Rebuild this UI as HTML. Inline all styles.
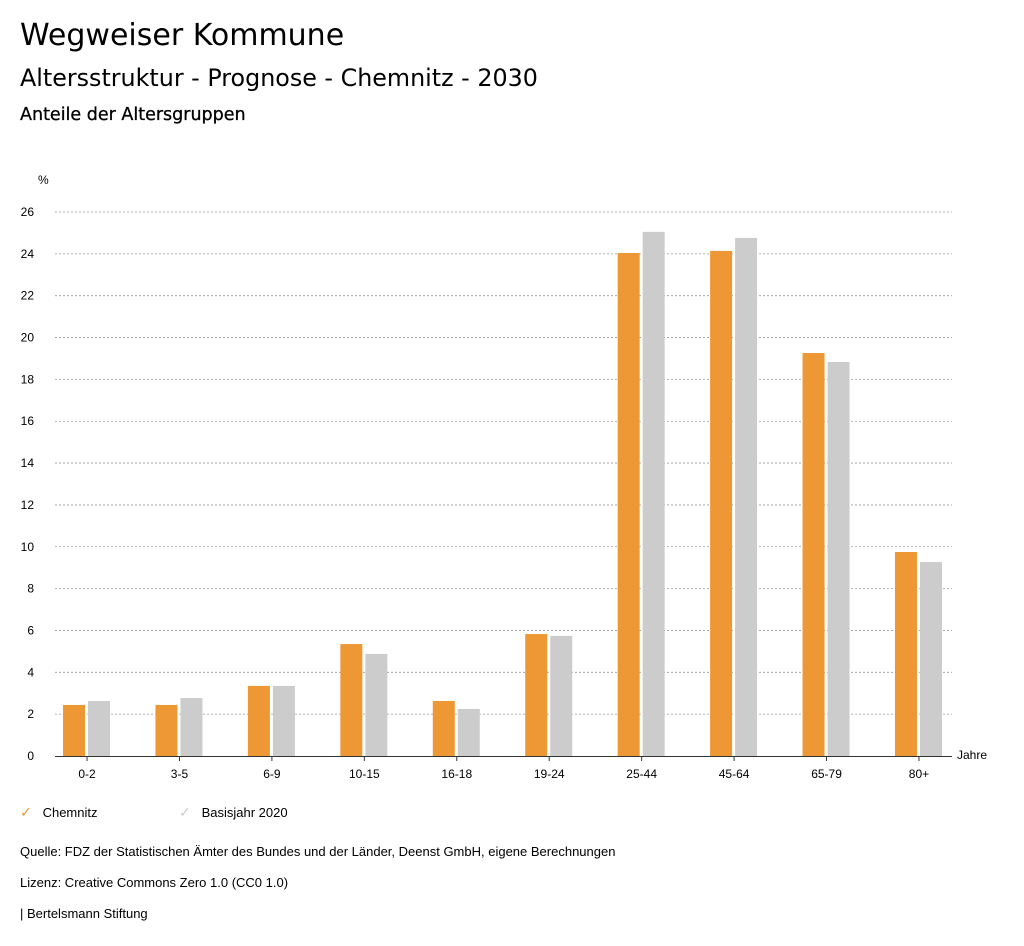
<!DOCTYPE html>
<html><head><meta charset="utf-8">
<style>
body{margin:0;width:1024px;height:946px;background:#fff;font-family:"Liberation Sans",sans-serif;color:#000;position:relative;overflow:hidden}
.t{position:absolute;white-space:nowrap}
.d{font-family:"DejaVu Sans","Liberation Sans",sans-serif}
</style></head>
<body>
<div class="t d" style="left:20px;top:18px;font-size:30px">Wegweiser Kommune</div>
<div class="t d" style="left:20px;top:64px;font-size:23.8px">Altersstruktur - Prognose - Chemnitz - 2030</div>
<div class="t d" style="left:20px;top:105px;font-size:17.5px;font-weight:500;-webkit-text-stroke:0.3px #000">Anteile der Altersgruppen</div>
<svg id="chart" width="1024" height="800" style="position:absolute;left:0;top:0" font-family="Liberation Sans, sans-serif"></svg>
<div class="t" style="left:20px;top:804px;font-size:13px"><span style="color:#ee9835;font-size:14px">✓</span>&nbsp;&nbsp;&nbsp;Chemnitz</div>
<div class="t" style="left:179px;top:804px;font-size:13px"><span style="color:#cccccc;font-size:14px">✓</span>&nbsp;&nbsp;&nbsp;Basisjahr 2020</div>
<div class="t" style="left:20px;top:844px;font-size:13px">Quelle: FDZ der Statistischen Ämter des Bundes und der Länder, Deenst GmbH, eigene Berechnungen</div>
<div class="t" style="left:20px;top:875px;font-size:13px">Lizenz: Creative Commons Zero 1.0 (CC0 1.0)</div>
<div class="t" style="left:20px;top:906px;font-size:13px">| Bertelsmann Stiftung</div>
<script>
const categories=["0-2","3-5","6-9","10-15","16-18","19-24","25-44","45-64","65-79","80+"];
const chemnitz=[2.44,2.44,3.35,5.35,2.63,5.83,24.04,24.14,19.26,9.75];
const basis=[2.63,2.77,3.35,4.88,2.25,5.74,25.05,24.76,18.83,9.27];
const yTicks=[0,2,4,6,8,10,12,14,16,18,20,22,24,26];
const svg=document.getElementById('chart');
const NS='http://www.w3.org/2000/svg';
const y0=756,yTop=212,yMax=26;
const y=v=>y0-(v/yMax)*(y0-yTop);
const band=92.44,bx0=40.8;
const x=i=>bx0+i*band;
function mk(tag,a){const e=document.createElementNS(NS,tag);for(const k in a)e.setAttribute(k,a[k]);svg.appendChild(e);return e;}
yTicks.forEach(t=>{
 if(t>0){const l=mk('line',{x1:55,x2:952,y1:y(t),y2:y(t),stroke:'#999','stroke-dasharray':'2,2','stroke-width':0.8});
 
 }
 const tx=mk('text',{x:34,y:y(t)+4,'font-size':12,'text-anchor':'end'});tx.textContent=t;
 
 
});
const ax=mk('line',{x1:55,x2:952,y1:y0+0.5,y2:y0+0.5,stroke:'#333','stroke-width':1});


const pu=mk('text',{x:38,y:184,'font-size':12});pu.textContent='%';


const ja=mk('text',{x:957,y:759,'font-size':12});ja.textContent='Jahre';


categories.forEach((c,i)=>{
 const cx=x(i)+band/2;
 const r1=mk('rect',{x:cx-24,y:y(chemnitz[i]),width:22,height:y0-y(chemnitz[i]),fill:'#ee9835'});
 
 
 const r2=mk('rect',{x:cx+1,y:y(basis[i]),width:22,height:y0-y(basis[i]),fill:'#cccccc'});
 
 
 const tk=mk('line',{x1:cx,x2:cx,y1:y0,y2:y0+5,stroke:'#333'});
 
 
 const t=mk('text',{x:cx,y:778,'font-size':12,'text-anchor':'middle'});t.textContent=c;
 
 
});
</script>
</body></html>
